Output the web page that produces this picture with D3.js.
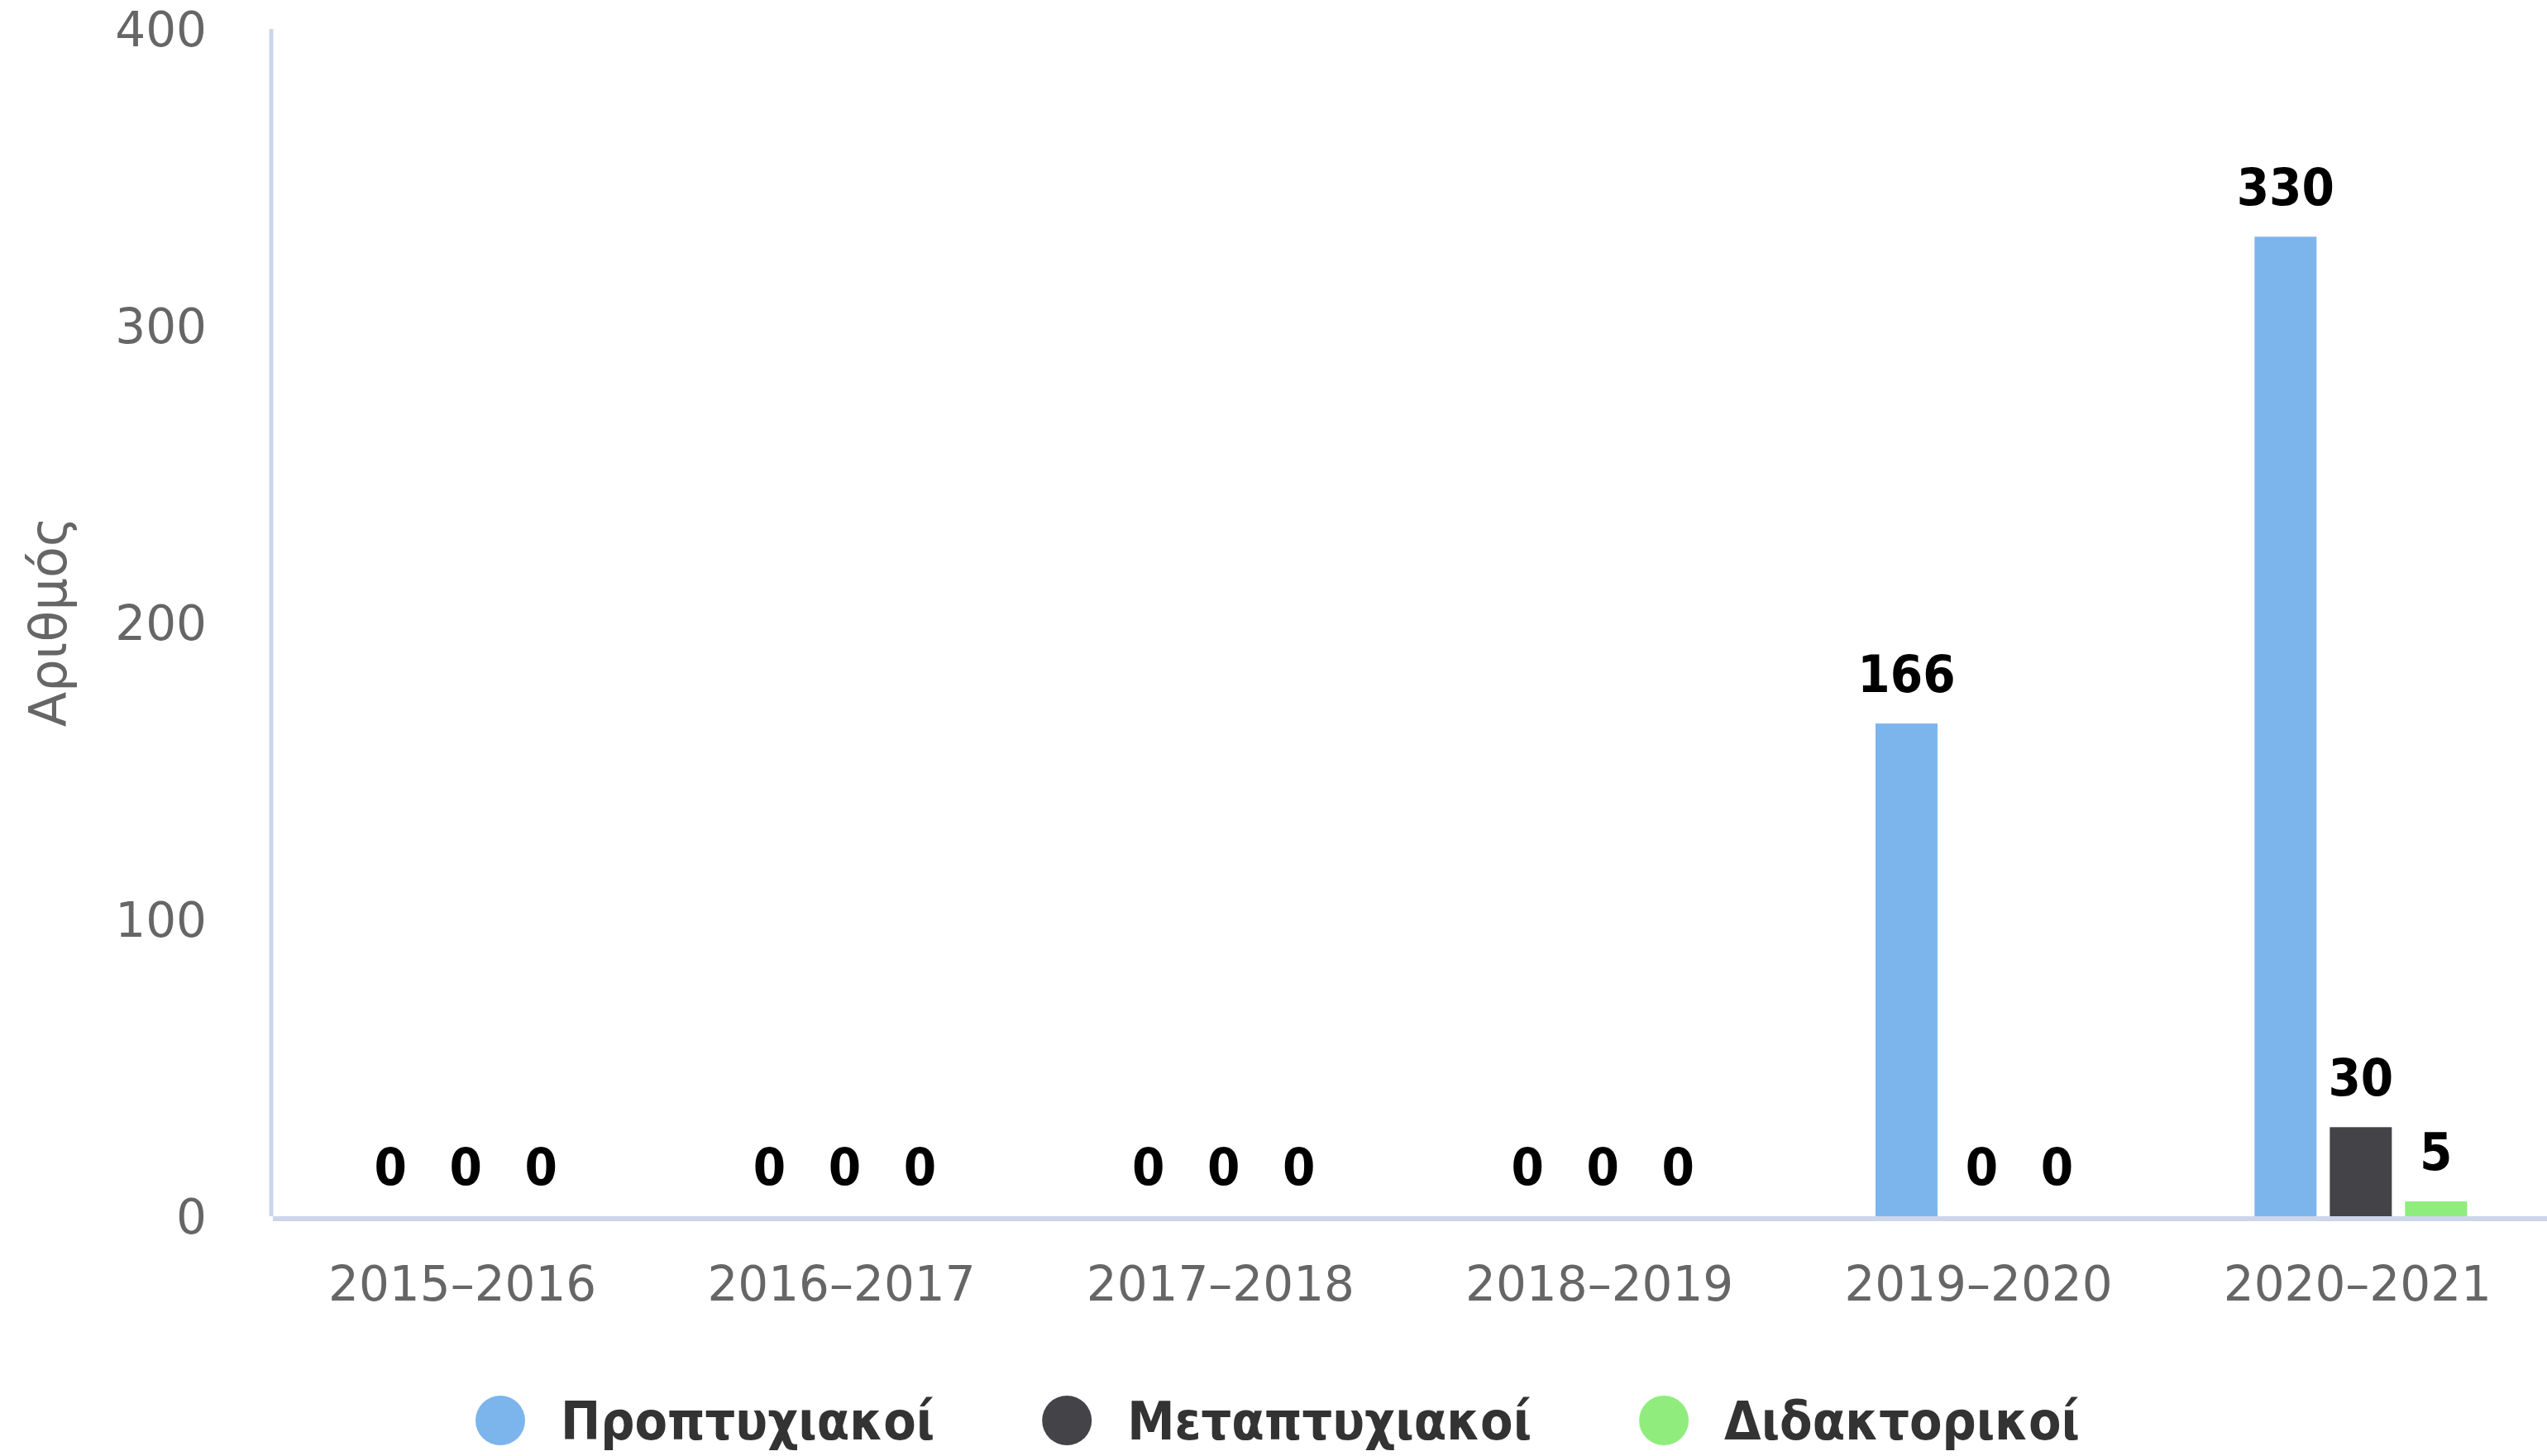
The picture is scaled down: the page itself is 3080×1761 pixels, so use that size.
<!DOCTYPE html>
<html>
<head>
<meta charset="utf-8">
<script src="https://cdn.jsdelivr.net/npm/d3@7/dist/d3.min.js"></script>
<style>
  html, body { margin: 0; padding: 0; background: #ffffff; }
  svg { display: block; }
</style>
</head>
<body>
<svg id="chart" width="3080" height="1761"></svg>
<script>
// ---- data ----
const categories = ["2015–2016", "2016–2017", "2017–2018", "2018–2019", "2019–2020", "2020–2021"];
const seriesNames = ["Προπτυχιακοί", "Μεταπτυχιακοί", "Διδακτορικοί"];
const undergraduate = [0, 0, 0, 0, 166, 330];
const postgraduate = [0, 0, 0, 0, 0, 30];
const doctoral = [0, 0, 0, 0, 0, 5];
const seriesColors = ["#7cb5ec", "#434348", "#90ed7d"];
const yTicks = [0, 100, 200, 300, 400];
const yTitle = "Αριθμός";

const seriesValues = [undergraduate, postgraduate, doctoral];

// ---- layout ----
const W = 3080, H = 1761;
const plot = { left: 330, right: 3080, top: 35, bottom: 1471 };
const svg = d3.select("#chart");
svg.append("rect").attr("width", W).attr("height", H).attr("fill", "#ffffff");

const x = d3.scaleBand().domain(categories).range([plot.left, plot.right]).paddingInner(0).paddingOuter(0);
const y = d3.scaleLinear().domain([0, 400]).range([plot.bottom, plot.top]);

const barW = 75, barGap = 16;
const groupW = barW * 3 + barGap * 2;
const sub = d3.scaleBand().domain(d3.range(3)).range([0, groupW]).paddingInner(barGap / (barW + barGap)).paddingOuter(0);

// ---- y axis ----
const yAxis = d3.axisLeft(y).tickValues(yTicks).tickSize(0).tickPadding(0);
const gy = svg.append("g").attr("transform", `translate(${plot.left - 80},0)`).call(yAxis);
gy.select(".domain").remove();
gy.selectAll("text")
  .attr("font-family", "'DejaVu Sans', sans-serif")
  .attr("font-size", 58)
  .attr("fill", "#666666")
  .attr("dy", "0.36em");

svg.append("line")
  .attr("x1", plot.left - 2).attr("x2", plot.left - 2)
  .attr("y1", plot.top).attr("y2", plot.bottom)
  .attr("stroke", "#c9d6ea").attr("stroke-width", 5);

// ---- x axis ----
const xAxis = d3.axisBottom(x).tickSize(0).tickPadding(0);
const gx = svg.append("g").attr("transform", `translate(0,${plot.bottom})`).call(xAxis);
gx.select(".domain").remove();
gx.selectAll("text")
  .attr("font-family", "'DejaVu Sans', sans-serif")
  .attr("font-size", 58)
  .attr("fill", "#666666")
  .attr("dy", 0)
  .attr("y", 102);

svg.append("line")
  .attr("x1", plot.left).attr("x2", plot.right)
  .attr("y1", plot.bottom + 3).attr("y2", plot.bottom + 3)
  .attr("stroke", "#ccd6eb").attr("stroke-width", 6);

// ---- y title ----
svg.append("text")
  .attr("transform", `translate(80,752) rotate(-90)`)
  .attr("text-anchor", "middle")
  .attr("font-family", "'DejaVu Sans', sans-serif")
  .attr("font-size", 62)
  .attr("fill", "#666666")
  .text(yTitle);

// ---- bars ----
const groups = svg.append("g").selectAll("g")
  .data(categories)
  .join("g")
  .attr("transform", d => `translate(${x(d) + (x.bandwidth() - groupW) / 2 + 4},0)`);

groups.each(function (cat, ci) {
  const g = d3.select(this);
  seriesValues.forEach((vals, si) => {
    const v = vals[ci];
    if (v === null || v === undefined) return;
    if (v > 0) {
      g.append("rect")
        .attr("x", sub(si))
        .attr("width", sub.bandwidth())
        .attr("y", y(v))
        .attr("height", y(0) - y(v))
        .attr("fill", seriesColors[si]);
    }
    g.append("text")
      .attr("x", sub(si) + sub.bandwidth() / 2)
      .attr("y", y(v) - 38)
      .attr("text-anchor", "middle")
      .attr("font-family", "'DejaVu Sans Condensed', 'DejaVu Sans', sans-serif")
      .attr("font-stretch", "condensed")
      .attr("font-weight", "bold")
      .attr("font-size", 63)
      .attr("fill", "#000000")
      .text(v);
  });
});

// ---- legend ----
const legend = svg.append("g");
const items = legend.selectAll("g").data(seriesNames).join("g");
items.append("circle").attr("r", 30).attr("cx", 0).attr("cy", 0).attr("fill", (d, i) => seriesColors[i]);
items.append("text")
  .attr("x", 73)
  .attr("y", 0)
  .attr("dy", "0.36em")
  .attr("font-family", "'DejaVu Sans Condensed', 'DejaVu Sans', sans-serif")
  .attr("font-stretch", "condensed")
  .attr("font-weight", "bold")
  .attr("font-size", 64)
  .attr("fill", "#333333")
  .text(d => d);

let cursor = 0;
const itemGap = 130;
items.each(function () {
  const t = d3.select(this).select("text").node();
  const w = 30 + 73 + t.getComputedTextLength();
  d3.select(this).attr("transform", `translate(${cursor + 30},0)`);
  cursor += w + itemGap;
});
const totalW = cursor - itemGap;
legend.attr("transform", `translate(${1545 - totalW / 2},1718)`);
</script>
</body>
</html>
